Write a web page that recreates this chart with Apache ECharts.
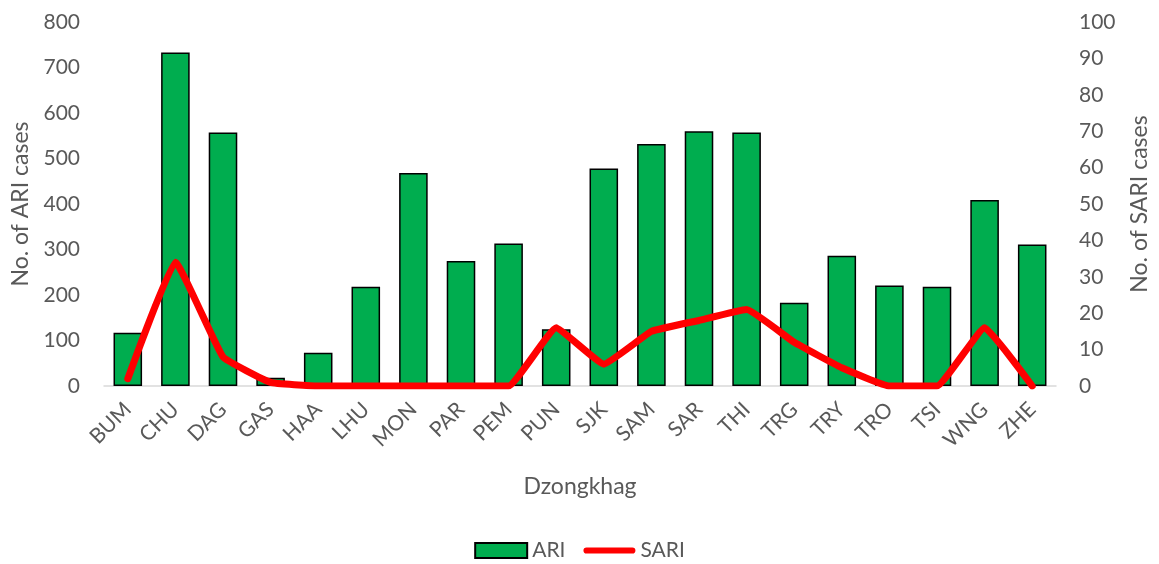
<!DOCTYPE html>
<html><head><meta charset="utf-8">
<script src="https://cdn.jsdelivr.net/npm/echarts@6/dist/echarts.min.js"></script>
<style>html,body{margin:0;padding:0;background:#fff}#c{width:1159px;height:564px}</style>
</head><body><div id="c"></div>
<script>
const categories = ['BUM','CHU','DAG','GAS','HAA','LHU','MON','PAR','PEM','PUN','SJK','SAM','SAR','THI','TRG','TRY','TRO','TSI','WNG','ZHE'];
const ariValues = [117,733,557,18,73,218,468,275,313,125,478,532,560,557,183,286,221,218,409,311];
const sariValues = [2,34,8,1,0,0,0,0,0,16,6,15,18,21,12,5,0,0,16,0];
const leftTicks = [0,100,200,300,400,500,600,700,800];
const rightTicks = [0,10,20,30,40,50,60,70,80,90,100];

const font = 'Lato, "Open Sans", sans-serif';
const grey = '#595959';
const chart = echarts.init(document.getElementById('c'));
chart.setOption({
  animation: false,
  textStyle: {fontFamily: font},
  legend: {
    bottom: -2, left: 'center', itemGap: 18, itemWidth: 52, itemHeight: 15,
    textStyle: {fontSize: 21, color: grey, fontFamily: font},
    data: [
      {name: 'ARI', icon: 'rect'},
      {name: 'SARI', icon: 'path://M3,0 L55,0 A3,3 0 0 1 55,7 L3,7 A3,3 0 0 1 3,0 Z', itemStyle: {color: '#ff0000', borderWidth: 0}}
    ]
  },
  grid: {left: 104, right: 97, top: 22, bottom: 178},
  xAxis: {
    type: 'category', data: categories,
    name: 'Dzongkhag', nameLocation: 'middle', nameGap: 89,
    nameTextStyle: {fontSize: 23, color: grey, fontFamily: font},
    axisLine: {lineStyle: {color: '#d9d9d9', width: 1.5}},
    axisTick: {show: false},
    axisLabel: {rotate: 45, fontSize: 21, color: grey, margin: 20, interval: 0, fontFamily: font}
  },
  yAxis: [{
    type: 'value', min: leftTicks[0], max: leftTicks[leftTicks.length-1], interval: 100,
    name: 'No. of ARI cases', nameLocation: 'middle', nameGap: 68, nameRotate: 90,
    nameTextStyle: {fontSize: 23, color: grey, fontFamily: font},
    axisLine: {show: false}, axisTick: {show: false}, splitLine: {show: false},
    axisLabel: {fontSize: 21, color: grey, margin: 24, fontFamily: font}
  }, {
    type: 'value', min: rightTicks[0], max: rightTicks[rightTicks.length-1], interval: 10,
    name: 'No. of SARI cases', nameLocation: 'middle', nameGap: 72, nameRotate: 90,
    nameTextStyle: {fontSize: 23, color: grey, fontFamily: font, verticalAlign: 'top'},
    axisLine: {show: false}, axisTick: {show: false}, splitLine: {show: false},
    axisLabel: {fontSize: 21, color: grey, margin: 23, fontFamily: font}
  }],
  series: [{
    name: 'ARI', type: 'bar', data: ariValues, yAxisIndex: 0, barWidth: '60%',
    itemStyle: {color: '#00ad4f', borderColor: '#000', borderWidth: 1.5}
  }, {
    name: 'SARI', type: 'line', data: sariValues, yAxisIndex: 1, smooth: 0.1,
    symbol: 'none', lineStyle: {color: '#ff0000', width: 7, cap: 'round', join: 'round'}, itemStyle: {color: '#ff0000'}
  }]
});
</script></body></html>
